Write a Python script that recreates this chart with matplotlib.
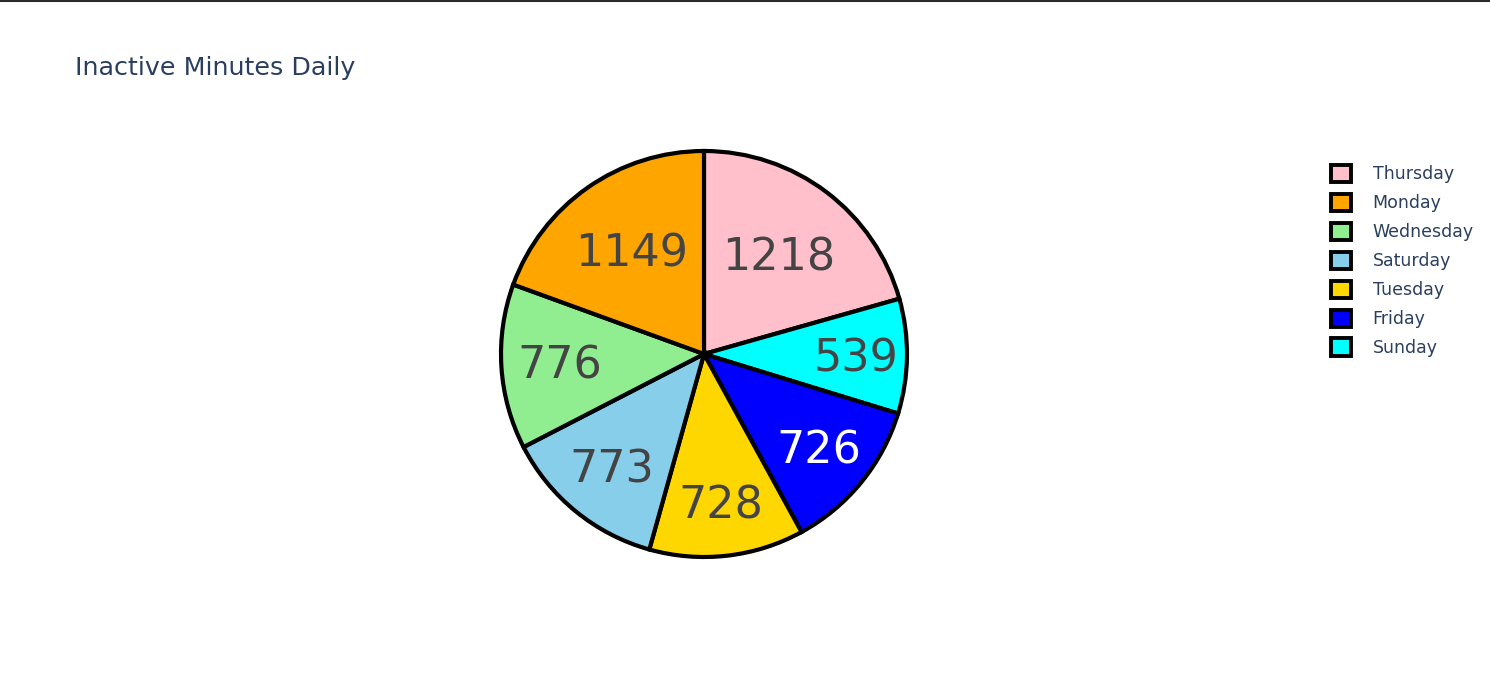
import numpy as np
import matplotlib
matplotlib.use('Agg')
import matplotlib.pyplot as plt
from matplotlib.patches import Patch
from matplotlib.lines import Line2D

# slices in drawing order (clockwise from 12 o'clock)
days = ['Thursday', 'Sunday', 'Friday', 'Tuesday', 'Saturday', 'Wednesday', 'Monday']
minutes = [1218, 539, 726, 728, 773, 776, 1149]
colors = ['#FFC0CB', '#00FFFF', '#0000FF', '#FFD700', '#87CEEB', '#90EE90', '#FFA500']
text_colors = ['#444444', '#444444', '#FFFFFF', '#444444', '#444444', '#444444', '#444444']
label_radius = [0.61, 0.75, 0.73, 0.74, 0.72, 0.71, 0.62]

# legend order
legend_days = ['Thursday', 'Monday', 'Wednesday', 'Saturday', 'Tuesday', 'Friday', 'Sunday']

W, H = 1490, 676
fig = plt.figure(figsize=(W / 100, H / 100), dpi=100)

cx, cy, r = 704, 354, 203
ax = fig.add_axes([(cx - r) / W, (H - cy - r) / H, 2 * r / W, 2 * r / H])
wedges, _ = ax.pie(minutes, colors=colors, startangle=90, counterclock=False,
                   wedgeprops=dict(edgecolor='black', linewidth=3))
ax.set_xlim(-1, 1)
ax.set_ylim(-1, 1)
ax.set_aspect('equal')
ax.axis('off')

for w, val, tc, rr in zip(wedges, minutes, text_colors, label_radius):
    ang = np.deg2rad((w.theta1 + w.theta2) / 2)
    ax.text(rr * np.cos(ang), rr * np.sin(ang) - 0.015, str(val), ha='center', va='center',
            fontsize=32, color=tc)

# title
fig.text(75 / W, 1 - 68 / H, 'Inactive Minutes Daily', fontsize=18.3,
         color='#2a3f5f', ha='left', va='center')

# legend
col = dict(zip(days, colors))
handles = [Patch(facecolor=col[d], edgecolor='black', linewidth=2.8) for d in legend_days]
leg = fig.legend(handles, legend_days, loc='upper left',
                 bbox_to_anchor=(1324 / W, 1 - 158 / H), frameon=False,
                 fontsize=12.5, handlelength=1.15, handleheight=1.15,
                 handletextpad=1.25, labelspacing=0.6, borderaxespad=0)
for t in leg.get_texts():
    t.set_color('#2a3f5f')

# dark border line at top of the screenshot
fig.add_artist(Line2D([0, 1], [1 - 1 / H, 1 - 1 / H], color='#2b2b2b', linewidth=1.5))

fig.savefig('out.png', dpi=100)
